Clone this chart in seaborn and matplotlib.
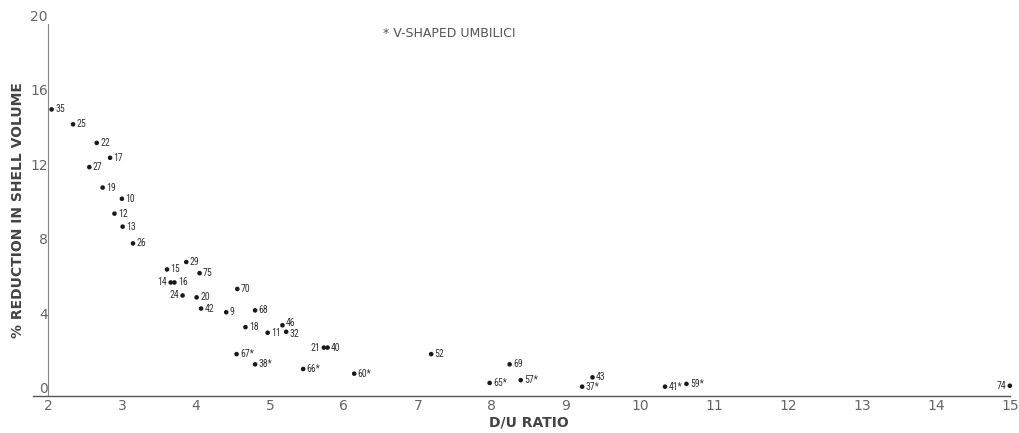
import matplotlib
matplotlib.use("Agg")
import matplotlib.pyplot as plt
import seaborn as sns
import pandas as pd
from matplotlib import font_manager

sns.set_style("white")
plt.rcParams['font.family'] = ['DejaVu Sans']

# ---- data ----
specimen = ["35", "25", "22", "17", "27", "19", "10", "12", "13", "26",
            "15", "29", "14", "16", "24", "75", "20", "42", "9", "70",
            "68", "18", "11", "46", "32", "21", "40", "67", "38", "66",
            "60", "52", "69", "65", "57", "43", "37", "41", "59", "74"]
du_ratio = [2.05, 2.34, 2.66, 2.84, 2.56, 2.74, 3.00, 2.90, 3.01, 3.15,
            3.61, 3.87, 3.66, 3.71, 3.82, 4.05, 4.01, 4.07, 4.41, 4.56,
            4.80, 4.67, 4.97, 5.17, 5.22, 5.73, 5.78, 4.55, 4.80, 5.45,
            6.14, 7.18, 8.24, 7.97, 8.39, 9.36, 9.22, 10.34, 10.63, 15.0]
reduction = [15.4, 14.6, 13.6, 12.8, 12.3, 11.2, 10.6, 9.8, 9.1, 8.2,
             6.8, 7.2, 6.1, 6.1, 5.4, 6.6, 5.3, 4.7, 4.5, 5.75,
             4.6, 3.7, 3.4, 3.8, 3.45, 2.6, 2.6, 2.25, 1.7, 1.45,
             1.2, 2.25, 1.7, 0.7, 0.85, 1.0, 0.5, 0.5, 0.65, 0.55]
v_shaped = ["67", "38", "66", "60", "65", "57", "37", "41", "59"]
left_labelled = ["14", "24", "21", "74"]
label_nudge_pt = {"46": 1.5, "32": -1.5}

x_ticks = list(range(2, 16))
y_ticks = [0, 4, 8, 12, 16, 20]

df = pd.DataFrame({"id": specimen, "du": du_ratio, "red": reduction})

names = {f.name for f in font_manager.fontManager.ttflist}
narrow = "DejaVu Sans"
for cand in ["Liberation Sans Narrow", "Roboto Condensed", "DejaVu Sans Condensed"]:
    if cand in names:
        narrow = cand
        break

fig = plt.figure(figsize=(10.19, 4.33), dpi=100)
ax = fig.add_axes([0.047, 0.0855, 0.944, 0.8595])

sns.scatterplot(data=df, x="du", y="red", ax=ax, color="#1a1a1a", s=11,
                edgecolor="none", legend=False, clip_on=False)

for _, r in df.iterrows():
    lab = r["id"] + ("*" if r["id"] in v_shaped else "")
    dy = label_nudge_pt.get(r["id"], 0)
    if r["id"] in left_labelled:
        ax.annotate(lab, (r["du"], r["red"]), xytext=(-2.5, dy), textcoords="offset points",
                    ha="right", va="center", fontsize=7, family=narrow, color="#333333")
    else:
        ax.annotate(lab, (r["du"], r["red"]), xytext=(2.5, dy), textcoords="offset points",
                    ha="left", va="center", fontsize=7, family=narrow, color="#333333")

ax.set_xlim(2, 15)
ax.set_ylim(0, 20)
ax.set_xticks(x_ticks)
ax.set_yticks(y_ticks)
ax.set_xticklabels([str(t) for t in x_ticks], color="#666666", fontsize=10)
ax.set_yticklabels([str(t) for t in y_ticks], color="#666666", fontsize=10, va="bottom")
ax.tick_params(axis="x", direction="in", length=6, width=1, color="#444444", pad=2)
ax.tick_params(axis="y", direction="out", length=10, width=0.8, color="#666666", pad=-10)
for lbl in ax.get_yticklabels():
    lbl.set_horizontalalignment("right")

sns.despine(ax=ax, top=True, right=True)
ax.spines["left"].set_color("#888888")
ax.spines["left"].set_linewidth(0.8)
ax.spines["bottom"].set_color("#555555")
ax.spines["bottom"].set_linewidth(1.0)
ax.spines["bottom"].set_bounds(1.8, 15)

ax.set_xlabel("D/U RATIO", fontsize=10, fontweight="bold", color="#444444", labelpad=2)
ax.set_ylabel("% REDUCTION IN SHELL VOLUME", fontsize=10, fontweight="bold",
              color="#444444", labelpad=4)

ax.text(7.42, 19.5, "* V-SHAPED UMBILICI", fontsize=9, color="#555555",
        ha="center", va="center")

fig.savefig("out.png", dpi=100)
